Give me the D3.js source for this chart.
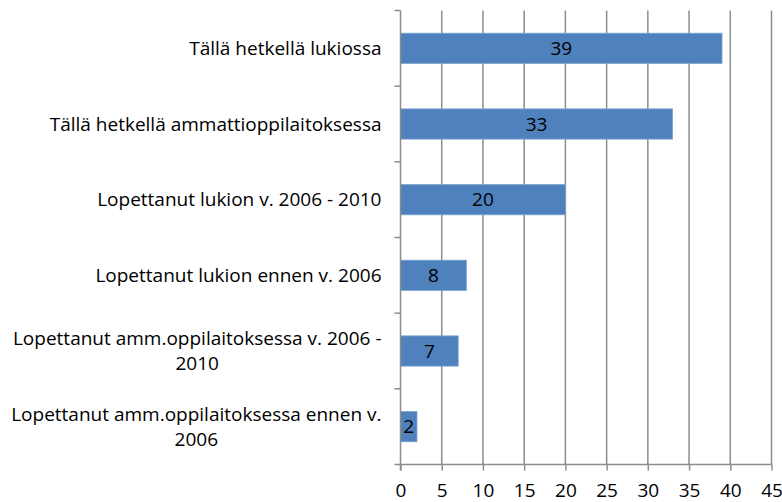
<!DOCTYPE html>
<html>
<head>
<meta charset="utf-8">
<script src="https://cdn.jsdelivr.net/npm/d3@7"></script>
<style>
  body { margin: 0; background: #fff; }
  svg { display: block; font-family: "Open Sans", Lato, sans-serif; }
</style>
</head>
<body>
<div id="chart"></div>
<script>
(function() {
  var categories = [
    "Tällä hetkellä lukiossa",
    "Tällä hetkellä ammattioppilaitoksessa",
    "Lopettanut lukion v. 2006 - 2010",
    "Lopettanut lukion ennen v. 2006",
    "Lopettanut amm.oppilaitoksessa v. 2006 - 2010",
    "Lopettanut amm.oppilaitoksessa ennen v. 2006"
  ];
  var values = [39, 33, 20, 8, 7, 2];
  var xTicks = [0, 5, 10, 15, 20, 25, 30, 35, 40, 45];

  var width = 782,
      height = 502,
      margin = { top: 10.5, right: 10.5, bottom: 37.5, left: 400.5 },
      plotWidth = width - margin.left - margin.right,
      plotHeight = height - margin.top - margin.bottom,
      fontSize = "19px";

  var svg = d3.select("#chart").append("svg")
      .attr("width", width)
      .attr("height", height);

  var g = svg.append("g")
      .attr("transform", "translate(" + margin.left + "," + margin.top + ")");

  var x = d3.scaleLinear().domain([0, 45]).range([0, plotWidth]);
  var y = d3.scaleBand().domain(categories).range([0, plotHeight])
      .paddingInner(0.6).paddingOuter(0.3);

  // vertical gridlines
  g.selectAll(".grid")
      .data(xTicks.slice(1))
    .enter().append("line")
      .attr("x1", d => x(d)).attr("x2", d => x(d))
      .attr("y1", 0).attr("y2", plotHeight)
      .attr("stroke", "#8c8c8c")
      .attr("stroke-width", 1.5);

  // bars
  g.selectAll(".bar")
      .data(values)
    .enter().append("rect")
      .attr("x", 0)
      .attr("y", (d, i) => y(categories[i]))
      .attr("width", d => x(d))
      .attr("height", y.bandwidth())
      .attr("fill", "#4f81bd")
      .attr("stroke", "#7fa5d3")
      .attr("stroke-width", 0.8);

  g.selectAll(".val")
      .data(values)
    .enter().append("text")
      .attr("x", d => x(d) / 2)
      .attr("y", (d, i) => y(categories[i]) + y.bandwidth() / 2)
      .attr("dy", "0.35em")
      .attr("text-anchor", "middle")
      .attr("font-size", fontSize)
      .attr("fill", "#000")
      .text(d => d);

  // x axis
  var xAxis = g.append("g")
      .attr("transform", "translate(0," + plotHeight + ")")
      .call(d3.axisBottom(x).tickValues(xTicks).tickSize(6).tickPadding(13).tickFormat(d3.format("d")));
  xAxis.select(".domain").attr("stroke", "#8c8c8c").attr("stroke-width", 1.5).attr("d", "M0,0H" + plotWidth);
  xAxis.selectAll(".tick line").attr("stroke", "#8c8c8c").attr("stroke-width", 1.5);
  xAxis.selectAll(".tick text")
      .attr("font-family", "'Open Sans', Lato, sans-serif")
      .attr("font-size", fontSize)
      .attr("fill", "#000");

  // y axis line + category ticks
  g.append("line")
      .attr("x1", 0).attr("x2", 0).attr("y1", 0).attr("y2", plotHeight + 6)
      .attr("stroke", "#8c8c8c").attr("stroke-width", 1.5);
  var bounds = categories.map(c => y(c) - y.step() * y.paddingInner() / 2)
      .concat([plotHeight]);
  g.selectAll(".ytick")
      .data(bounds)
    .enter().append("line")
      .attr("x1", -6).attr("x2", 0)
      .attr("y1", d => d).attr("y2", d => d)
      .attr("stroke", "#8c8c8c").attr("stroke-width", 1.5);

  // category labels, wrapped and centred as a block against the axis
  var labelRight = -19, maxW = 376, lineH = 25;
  categories.forEach(function(c, i) {
    var t = g.append("text")
        .attr("font-size", fontSize)
        .attr("fill", "#000")
        .attr("text-anchor", "middle");
    var words = c.split(" "), lines = [], cur = [];
    var probe = t.append("tspan");
    words.forEach(function(w) {
      cur.push(w);
      probe.text(cur.join(" "));
      if (probe.node().getComputedTextLength() > maxW && cur.length > 1) {
        cur.pop();
        lines.push(cur.join(" "));
        cur = [w];
      }
    });
    lines.push(cur.join(" "));
    var widths = lines.map(function(l) { probe.text(l); return probe.node().getComputedTextLength(); });
    probe.remove();
    var blockW = d3.max(widths);
    var cx = labelRight - blockW / 2;
    var cy = y(c) + y.bandwidth() / 2 - (lines.length - 1) * lineH / 2;
    lines.forEach(function(l, j) {
      t.append("tspan")
          .attr("x", cx)
          .attr("y", cy + j * lineH)
          .attr("dy", "0.35em")
          .text(l);
    });
  });
})();
</script>
</body>
</html>
